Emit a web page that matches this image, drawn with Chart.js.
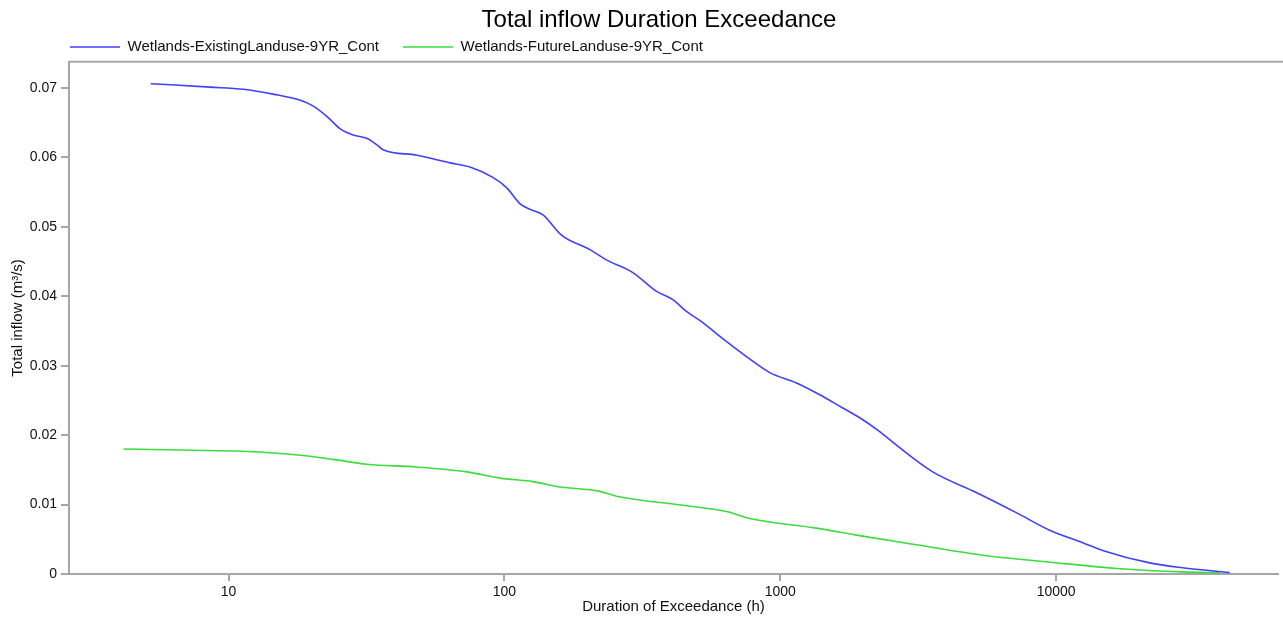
<!DOCTYPE html>
<html lang="en">
<head>
  <meta charset="UTF-8" />
  <title>Total inflow Duration Exceedance</title>
  <script src="https://cdn.jsdelivr.net/npm/chart.js"></script>
  <style>
    html, body { margin: 0; padding: 0; background: #fff; }
    #wrap { width: 1283px; height: 623px; }
  </style>
</head>
<body>
<div id="wrap"><canvas id="chart" width="1283" height="623"></canvas></div>

<script>
  // values
  const seriesNames = ['Wetlands-ExistingLanduse-9YR_Cont', 'Wetlands-FutureLanduse-9YR_Cont'];

  const existingHours = [5.22, 8.57, 11.3, 14.5, 18.2, 20.2, 22.7, 25.4, 28.3, 31.8, 34.5, 36.3, 48.2, 63.5, 75, 90.8,
    102, 114, 124, 138, 161, 204, 235, 292, 356, 408, 457, 524, 604, 754, 916, 1145, 1390, 1684, 1941, 2293, 2666,
    3568, 5152, 7194, 9470, 12480, 14730, 21820, 28710, 42530];
  const existingFlow = [0.0706, 0.0701, 0.0698, 0.0691, 0.0682, 0.0674, 0.0659, 0.0641, 0.0632, 0.0627, 0.0618, 0.0611,
    0.0603, 0.0592, 0.0586, 0.0571, 0.0556, 0.0533, 0.0525, 0.0517, 0.0488, 0.0467, 0.0452, 0.0434, 0.0407, 0.0395,
    0.0378, 0.0362, 0.0342, 0.0313, 0.0290, 0.0275, 0.0258, 0.0239, 0.0225, 0.0205, 0.0184, 0.0147, 0.0117, 0.0088,
    0.0063, 0.0045, 0.0034, 0.0016, 0.0009, 0.0002];

  const futureHours = [4.16, 5.97, 10.4, 13.7, 18.2, 23.9, 31.7, 48.1, 73, 96.3, 126.8, 154.5, 221.8, 255, 443, 638,
    775, 1352, 1888, 3115, 5417, 9470, 16560, 28710, 39100];
  const futureFlow = [0.0180, 0.0179, 0.0177, 0.0175, 0.0171, 0.0165, 0.0158, 0.0154, 0.0147, 0.0138, 0.0133, 0.0126,
    0.0119, 0.0112, 0.0099, 0.0090, 0.0080, 0.0066, 0.0056, 0.0042, 0.0027, 0.0017, 0.0008, 0.0003, 0.0002];

  const xTicks = [10, 100, 1000, 10000];
  const yTicks = [0, 0.01, 0.02, 0.03, 0.04, 0.05, 0.06, 0.07];
  const xRange = [2.64, 63700];
  const yRange = [0, 0.07375];

  const FONT = "'Liberation Sans', Arial, sans-serif";
  const AXIS_GREY = '#a6a6a6';
  const TEXT = '#111';

  function toPoints(xs, ys) {
    return xs.map((x, i) => ({ x: x, y: ys[i] }));
  }

  // nudge title/legend and draw the thin frame line on top of the plot
  const layoutTweaks = {
    id: 'layoutTweaks',
    afterLayout(chart) {
      const t = chart.titleBlock;
      if (t) { t.left += 20; t.right += 20; }
      const lg = chart.legend;
      if (lg) { lg.left = 46; lg.top = 15.5; }
    },
    afterDraw(chart) {
      const a = chart.chartArea, ctx = chart.ctx;
      ctx.save();
      ctx.strokeStyle = AXIS_GREY;
      ctx.lineWidth = 2;
      ctx.beginPath();
      ctx.moveTo(a.left, a.top);
      ctx.lineTo(a.right + 5, a.top);
      ctx.stroke();
      ctx.restore();
    }
  };

  new Chart(document.getElementById('chart'), {
    type: 'line',
    data: {
      datasets: [{
        label: seriesNames[0],
        data: toPoints(existingHours, existingFlow),
        borderColor: '#4040ff',
        backgroundColor: '#4040ff',
        borderWidth: 1.6
      }, {
        label: seriesNames[1],
        data: toPoints(futureHours, futureFlow),
        borderColor: '#3cdc3c',
        backgroundColor: '#3cdc3c',
        borderWidth: 1.6
      }]
    },
    options: {
      responsive: false,
      animation: false,
      devicePixelRatio: 1,
      elements: {
        point: { radius: 0 },
        line: { cubicInterpolationMode: 'monotone', fill: false }
      },
      layout: { padding: { left: 0, right: 5, top: 0, bottom: 0 } },
      plugins: {
        title: {
          display: true,
          text: 'Total inflow Duration Exceedance',
          color: '#000',
          font: { family: FONT, size: 24, weight: 'normal' },
          padding: { top: 6, bottom: 0 }
        },
        legend: {
          display: true,
          align: 'start',
          maxHeight: 27,
          labels: {
            usePointStyle: true,
            pointStyle: 'line',
            pointStyleWidth: 50,
            boxWidth: 50,
            padding: 24,
            color: TEXT,
            font: { family: FONT, size: 15 }
          }
        },
        tooltip: { enabled: false }
      },
      scales: {
        x: {
          type: 'logarithmic',
          min: xRange[0],
          max: xRange[1],
          afterBuildTicks: (scale) => { scale.ticks = xTicks.map(v => ({ value: v })); },
          afterFit: (scale) => { scale.height = 49; },
          ticks: {
            autoSkip: false,
            maxRotation: 0,
            padding: 3,
            color: TEXT,
            font: { family: FONT, size: 14 },
            callback: (v) => String(v)
          },
          grid: { drawOnChartArea: false, tickLength: 7, color: AXIS_GREY, lineWidth: 2 },
          border: { color: AXIS_GREY, width: 2 },
          title: {
            display: true,
            text: 'Duration of Exceedance (h)',
            color: TEXT,
            font: { family: FONT, size: 15 },
            padding: { top: 0, bottom: 7 }
          }
        },
        y: {
          type: 'linear',
          min: yRange[0],
          max: yRange[1],
          afterBuildTicks: (scale) => { scale.ticks = yTicks.map(v => ({ value: v })); },
          afterFit: (scale) => { scale.width = 69; },
          ticks: {
            padding: 4,
            color: TEXT,
            font: { family: FONT, size: 14 },
            callback: (v) => String(v)
          },
          grid: { drawOnChartArea: false, tickLength: 8, color: AXIS_GREY, lineWidth: 2 },
          border: { color: AXIS_GREY, width: 2 },
          title: {
            display: true,
            text: 'Total inflow (m³/s)',
            color: TEXT,
            font: { family: FONT, size: 15 },
            padding: { top: 9, bottom: 0 }
          }
        }
      }
    },
    plugins: [layoutTweaks]
  });
</script>
</body>
</html>
